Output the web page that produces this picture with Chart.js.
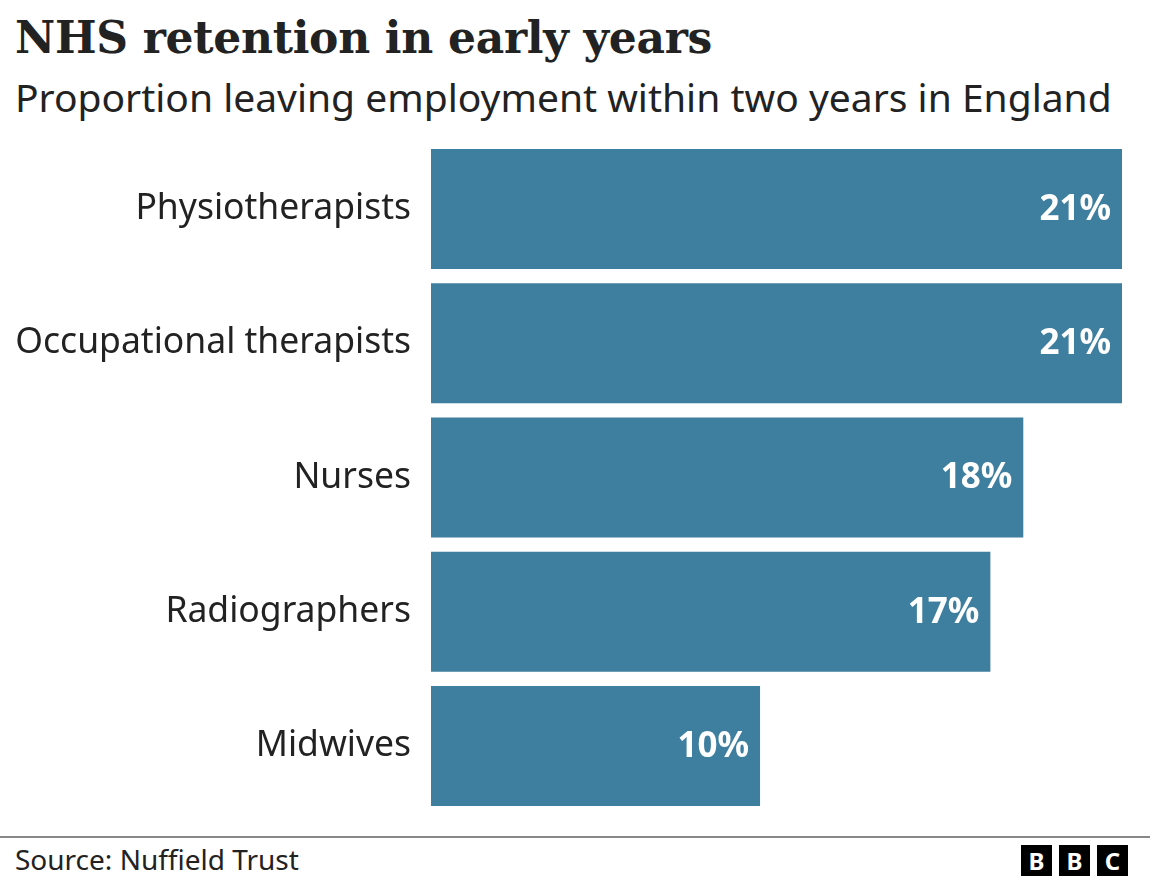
<!DOCTYPE html>
<html>
<head>
<meta charset="utf-8">
<script src="https://cdn.jsdelivr.net/npm/chart.js@4.4.0/dist/chart.umd.min.js"></script>
<style>
  body { margin: 0; background: #fff; width: 1150px; height: 879px; position: relative; overflow: hidden; font-family: "Noto Sans", sans-serif; color: #222; }
  h1 { position: absolute; left: 15px; top: 12px; margin: 0; font-family: "DejaVu Serif", serif; font-weight: bold; font-size: 44px; letter-spacing: -0.3px; }
  .sub { position: absolute; left: 15px; top: 70px; font-size: 39px; }
  #chart { position: absolute; left: 0; top: 142px; }
  .rule { position: absolute; left: 0; top: 836px; width: 1150px; height: 2px; background: #888; }
  .src { position: absolute; left: 15px; top: 840px; font-size: 28px; }
  .bbc { position: absolute; right: 22px; top: 845px; display: flex; gap: 7px; }
  .bbc span { width: 31px; height: 31px; background: #000; color: #fff; font-weight: bold; font-size: 24px; line-height: 31px; text-align: center; }
</style>
</head>
<body>
<h1>NHS retention in early years</h1>
<div class="sub">Proportion leaving employment within two years in England</div>
<canvas id="chart" width="1150" height="671"></canvas>
<div class="rule"></div>
<div class="src">Source: Nuffield Trust</div>
<div class="bbc"><span>B</span><span>B</span><span>C</span></div>
<script>
const categories = ["Physiotherapists", "Occupational therapists", "Nurses", "Radiographers", "Midwives"];
const values = [21, 21, 18, 17, 10];

const valueLabels = {
  id: "valueLabels",
  afterDatasetsDraw(chart) {
    const ctx = chart.ctx;
    const meta = chart.getDatasetMeta(0);
    ctx.save();
    ctx.fillStyle = "#fff";
    ctx.font = "bold 35px 'Noto Sans'";
    ctx.textAlign = "right";
    ctx.textBaseline = "middle";
    meta.data.forEach((bar, i) => {
      ctx.fillText(values[i] + "%", bar.x - 11, bar.y + 1);
    });
    ctx.restore();
  },
};

new Chart(document.getElementById("chart").getContext("2d"), {
  type: "bar",
  data: {
    labels: categories,
    datasets: [{
      data: values,
      backgroundColor: "#3e7e9e",
      barPercentage: 0.894,
      categoryPercentage: 1,
    }],
  },
  options: {
    indexAxis: "y",
    responsive: false,
    devicePixelRatio: 1,
    animation: false,
    layout: { padding: { left: 0, right: 28, top: 0, bottom: 0 } },
    plugins: { legend: { display: false }, tooltip: { enabled: false } },
    scales: {
      x: { display: false, min: 0, max: 21 },
      y: {
        grid: { display: false, drawTicks: false },
        border: { display: false },
        ticks: { color: "#222", font: { family: "Noto Sans", size: 35.5 }, padding: 20 },
        afterFit(scale) {
          scale.width = 431;
          scale.paddingTop = 0;
          scale.paddingBottom = 0;
        },
      },
    },
  },
  plugins: [valueLabels],
});
</script>
</body>
</html>
